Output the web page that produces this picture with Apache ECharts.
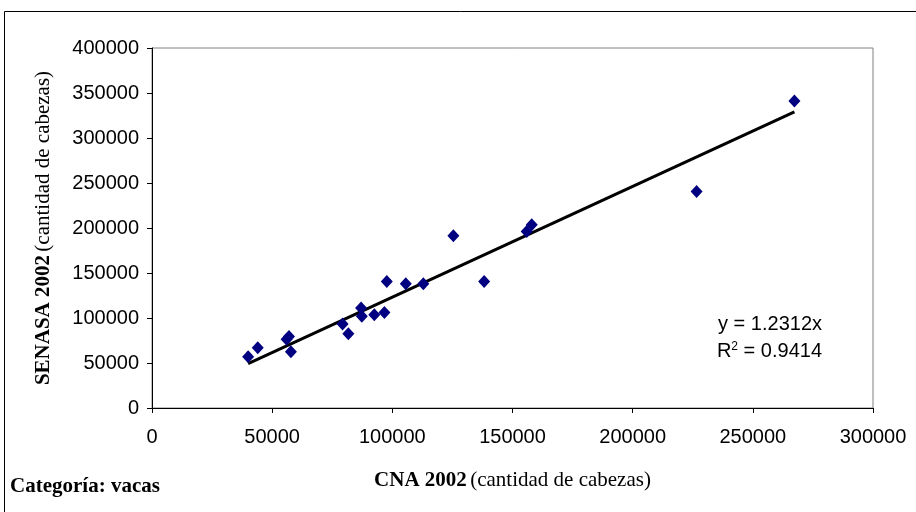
<!DOCTYPE html>
<html>
<head>
<meta charset="utf-8">
<script src="https://cdn.jsdelivr.net/npm/echarts@6/dist/echarts.min.js"></script>
<style>
  html, body { margin: 0; padding: 0; background: #fff; }
  #main { width: 916px; height: 512px; }
</style>
</head>
<body>
<div id="main"></div>
<script>
// datos (CNA 2002 vs SENASA 2002, vacas)
var cna = [40000, 44000, 56000, 57000, 57800, 79300, 81700, 87000, 87300, 92500, 96700,
           97700, 105600, 112900, 125400, 138200, 155900, 158000, 226600, 267300];
var senasa = [57000, 67000, 76500, 79500, 62500, 93300, 82500, 111000, 102000, 103500, 106000,
              140500, 138000, 138000, 191500, 140500, 196000, 203500, 240500, 341000];
var slope = 1.2312;
var r2 = 0.9414;
var xTicks = [0, 50000, 100000, 150000, 200000, 250000, 300000];
var yTicks = [0, 50000, 100000, 150000, 200000, 250000, 300000, 350000, 400000];

var puntos = cna.map(function (x, i) { return [x, senasa[i]]; });
var xMin = Math.min.apply(null, cna), xMax = Math.max.apply(null, cna);
var tendencia = [[xMin, slope * xMin], [xMax, slope * xMax]];

var titulo = {
    rich: {
        b: { fontFamily: 'Times New Roman', fontWeight: 'bold', fontSize: 21, color: '#000' },
        n: { fontFamily: 'Times New Roman', fontSize: 21, color: '#000' }
    }
};

var myChart = echarts.init(document.getElementById("main"));
var option = {
    backgroundColor: '#fff',
    animation: false,
    grid: {
        left: 152, right: 43, top: 48, bottom: 104,
        show: true, borderColor: '#808080', borderWidth: 1
    },
    xAxis: {
        type: 'value',
        min: xTicks[0], max: xTicks[xTicks.length - 1], interval: 50000,
        splitLine: { show: false },
        axisLine: { lineStyle: { color: '#000', width: 1 } },
        axisTick: { length: 5, lineStyle: { color: '#000' } },
        axisLabel: {
            color: '#000', fontFamily: 'Arial', fontSize: 20, margin: 19,
            formatter: function (v) { return String(v); }
        },
        name: '{b|CNA 2002} {n|(cantidad de cabezas)}',
        nameLocation: 'middle',
        nameGap: 62,
        nameTextStyle: titulo
    },
    yAxis: {
        type: 'value',
        min: yTicks[0], max: yTicks[yTicks.length - 1], interval: 50000,
        splitLine: { show: false },
        axisLine: { show: true, lineStyle: { color: '#000', width: 1 } },
        axisTick: { show: true, length: 5, lineStyle: { color: '#000' } },
        axisLabel: {
            color: '#000', fontFamily: 'Arial', fontSize: 20, margin: 13,
            formatter: function (v) { return String(v); }
        },
        name: '{b|SENASA 2002} {n|(cantidad de cabezas)}',
        nameLocation: 'middle',
        nameGap: 98,
        nameTextStyle: titulo
    },
    series: [
        {
            type: 'line',
            data: tendencia,
            showSymbol: false,
            lineStyle: { color: '#000', width: 3 },
            z: 2
        },
        {
            type: 'scatter',
            data: puntos,
            symbol: 'diamond',
            symbolSize: [12, 13],
            itemStyle: { color: '#000080', opacity: 1 },
            z: 3
        }
    ],
    graphic: [
        {
            type: 'rect',
            shape: { x: 4.5, y: 11.5, width: 930, height: 530 },
            style: { fill: null, stroke: '#000', lineWidth: 1 },
            silent: true
        },
        {
            type: 'text',
            left: 10, top: 476,
            style: { text: 'Categoría: vacas', fontFamily: 'Times New Roman', fontWeight: 'bold', fontSize: 21, fill: '#000' }
        },
        {
            type: 'text',
            right: 94, top: 314,
            style: { text: 'y = ' + slope + 'x', fontFamily: 'Arial', fontSize: 20, fill: '#000' }
        },
        {
            type: 'text',
            right: 94, top: 341,
            style: {
                text: '{a|R}{s|2}{a| = ' + r2 + '}',
                rich: {
                    a: { fontFamily: 'Arial', fontSize: 20, color: '#000' },
                    s: { fontFamily: 'Arial', fontSize: 12, color: '#000', verticalAlign: 'top', padding: [0, 0, 9, 0] }
                }
            }
        }
    ]
};
myChart.setOption(option);
</script>
</body>
</html>
